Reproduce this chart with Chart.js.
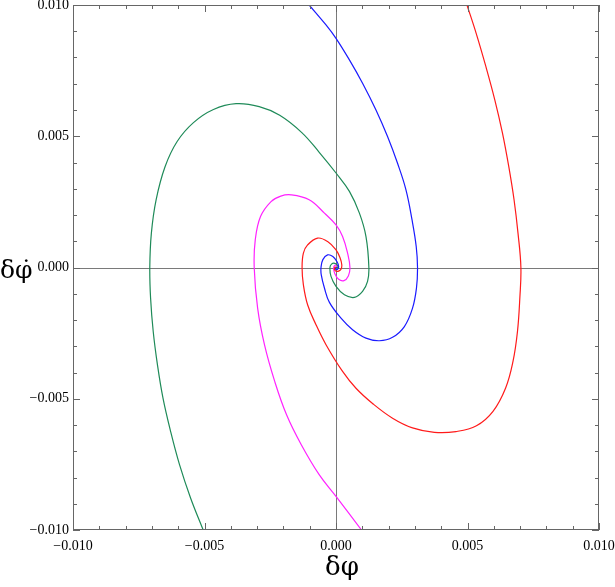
<!DOCTYPE html>
<html>
<head>
<meta charset="utf-8">
<script src="https://cdn.jsdelivr.net/npm/chart.js@4.4.1/dist/chart.umd.min.js"></script>
<style>
  html, body { margin: 0; padding: 0; background: #fff; }
  canvas { display: block; }
</style>
</head>
<body>
<canvas id="chart" width="615" height="587"></canvas>
<script>
// values (delta phi, delta phi-dot), in time order
const redX = [0.00498, 0.00533, 0.0057, 0.00604, 0.00633, 0.00657, 0.00677, 0.00692, 0.00703, 0.00699, 0.0069, 0.00673, 0.00645, 0.00597, 0.00534, 0.00456, 0.00374, 0.00291, 0.00215, 0.00139, 0.00076, 0.00025, -0.00038, -0.00076, -0.00108, -0.00124, -0.00129, -0.00124, -0.00108, -0.0007, -0.00032, 0.0, 0.00015, 0.00022, 0.00019, 0.0001, 0.0, -0.00006, -0.00004, 0.0];
const redY = [0.0100, 0.00892, 0.00765, 0.00638, 0.00512, 0.00384, 0.00258, 0.00131, 0.0, -0.00116, -0.00244, -0.00358, -0.00459, -0.00548, -0.00603, -0.00625, -0.00628, -0.00611, -0.00574, -0.00518, -0.0046, -0.00396, -0.00294, -0.00218, -0.00142, -0.00066, 0.0, 0.00055, 0.00086, 0.00112, 0.00099, 0.00067, 0.00038, 0.0001, -0.00007, -0.00014, -0.00014, -0.00007, 0.00001, 0.0];

const greenX = [-0.00505, -0.00553, -0.00595, -0.00629, -0.00658, -0.00679, -0.00695, -0.00705, -0.00708, -0.00702, -0.00684, -0.0065, -0.00604, -0.00542, -0.00466, -0.0038, -0.00292, -0.00214, -0.0013, -0.00063, 0.0, 0.00051, 0.00089, 0.00114, 0.00125, 0.0012, 0.00101, 0.0007, 0.00032, 0.0, -0.00019, -0.00023, -0.00017, -0.00005, 0.00006, 0.00006, 0.0];
const greenY = [-0.0100, -0.00878, -0.00751, -0.00624, -0.00497, -0.0037, -0.00244, -0.00116, 0.0, 0.00131, 0.00258, 0.00384, 0.0048, 0.00552, 0.00602, 0.00624, 0.00613, 0.0058, 0.00514, 0.00438, 0.0036, 0.0029, 0.00207, 0.00118, 0.0, -0.00053, -0.00091, -0.00114, -0.00104, -0.00072, -0.00034, 0.0, 0.00013, 0.00016, 0.00008, 0.0, 0.0];

const blueX = [-0.00102, -0.00038, 0.0, 0.00051, 0.00101, 0.00152, 0.00196, 0.00234, 0.00266, 0.00289, 0.00305, 0.0031, 0.00306, 0.00291, 0.0026, 0.00215, 0.00165, 0.00114, 0.00063, 0.00019, -0.00025, -0.00044, -0.00056, -0.00057, -0.0005, -0.00032, -0.00012, 0.00004, 0.0001, 0.00006, -0.00002, 0.0];
const blueY = [0.0100, 0.00924, 0.00873, 0.00791, 0.00702, 0.0060, 0.00499, 0.00397, 0.00296, 0.00182, 0.0008, 0.0, -0.00078, -0.00155, -0.00225, -0.00266, -0.00279, -0.00269, -0.00237, -0.00193, -0.00133, -0.00078, -0.00028, 0.0, 0.0003, 0.00048, 0.00042, 0.00022, 0.00004, -0.00007, -0.00006, 0.0];

const magentaX = [0.00097, 0.0, -0.00064, -0.00132, -0.00188, -0.00233, -0.00272, -0.00298, -0.00311, -0.00307, -0.00287, -0.00247, -0.0021, -0.00171, -0.00102, -0.00044, 0.0, 0.00025, 0.00044, 0.00053, 0.00047, 0.0003, 0.0001, -0.00004, -0.00009, -0.00004, 0.00003, 0.0];
const magentaY = [-0.0100, -0.00872, -0.00789, -0.00675, -0.00561, -0.00434, -0.00294, -0.00155, 0.0, 0.00105, 0.00194, 0.00251, 0.00272, 0.00277, 0.00258, 0.00207, 0.00162, 0.00118, 0.00055, 0.0, -0.00032, -0.0005, -0.00045, -0.00025, -0.00002, 0.00009, 0.00006, 0.0];

const axisMin = -0.01;
const axisMax = 0.01;
const majorStep = 0.005;

const toPoints = (xs, ys) => xs.map((x, i) => ({ x: x, y: ys[i] }));

const makeSeries = (label, xs, ys, color) => {
    return {
        label: label,
        data: toPoints(xs, ys),
        showLine: true,
        borderColor: color,
        borderWidth: 1.2,
        pointRadius: 0,
        tension: 0.4,
        cubicInterpolationMode: "default",
        fill: false,
    };
};

const fmt = (v) => {
    if (Math.abs(v) < 1e-9) return "0.000";
    return (v < 0 ? "\u2212" : "") + Math.abs(v).toFixed(3);
};

const tickFont = { family: "'Liberation Serif', 'DejaVu Serif', serif", size: 14 };

// frame, inward ticks on all four sides, zero lines and axis titles
const framePlugin = {
    id: "frame",
    beforeDatasetsDraw(chart) {
        const { ctx, chartArea: a, scales } = chart;
        const x0 = Math.round(scales.x.getPixelForValue(0)) + 0.5;
        const y0 = Math.round(scales.y.getPixelForValue(0)) + 0.5;
        ctx.save();
        ctx.strokeStyle = "#7a7a7a";
        ctx.lineWidth = 1;
        ctx.beginPath();
        ctx.moveTo(x0, a.top);
        ctx.lineTo(x0, a.bottom);
        ctx.moveTo(a.left, y0);
        ctx.lineTo(a.right, y0);
        ctx.stroke();
        ctx.restore();
    },
    afterDatasetsDraw(chart) {
        const { ctx, chartArea: a, scales } = chart;
        ctx.save();
        ctx.strokeStyle = "#666";
        ctx.lineWidth = 1;
        ctx.strokeRect(a.left + 0.5, a.top + 0.5, a.right - a.left - 1, a.bottom - a.top - 1);
        ctx.beginPath();
        for (let i = -10; i <= 10; i++) {
            const v = i / 1000;
            const len = i % 5 === 0 ? 7 : 4;
            const px = Math.round(scales.x.getPixelForValue(v)) + 0.5;
            const py = Math.round(scales.y.getPixelForValue(v)) + 0.5;
            ctx.moveTo(px, a.bottom);
            ctx.lineTo(px, a.bottom - len);
            ctx.moveTo(px, a.top);
            ctx.lineTo(px, a.top + len);
            ctx.moveTo(a.left, py);
            ctx.lineTo(a.left + len, py);
            ctx.moveTo(a.right, py);
            ctx.lineTo(a.right - len, py);
        }
        ctx.stroke();

        ctx.fillStyle = "#000";
        ctx.font = "26px 'DejaVu Serif', 'Liberation Serif', serif";
        ctx.textAlign = "center";
        ctx.textBaseline = "alphabetic";
        ctx.fillText("δφ", (a.left + a.right) / 2 + 6, 575);
        ctx.textAlign = "left";
        ctx.font = "25px 'DejaVu Serif', 'Liberation Serif', serif";
        ctx.fillText("δφ\u0307", 0, 278);
        ctx.restore();
    },
};

const createChart = () => {
    const ctx = document.getElementById("chart").getContext("2d");
    return new Chart(ctx, {
        type: "scatter",
        data: {
            datasets: [
                makeSeries("red", redX, redY, "#ff1a1a"),
                makeSeries("blue", blueX, blueY, "#1a1aff"),
                makeSeries("green", greenX, greenY, "#1e8a58"),
                makeSeries("magenta", magentaX, magentaY, "#ff22ff"),
            ],
        },
        options: {
            responsive: false,
            animation: false,
            devicePixelRatio: 1,
            elements: { line: { tension: 0.4 } },
            layout: { autoPadding: false, padding: { top: 5, right: 16, left: 0, bottom: 0 } },
            plugins: {
                legend: { display: false },
                tooltip: { enabled: false },
            },
            scales: {
                x: {
                    type: "linear",
                    min: axisMin,
                    max: axisMax,
                    grid: { display: false, drawTicks: false },
                    border: { display: false },
                    ticks: { stepSize: majorStep, callback: fmt, font: tickFont, color: "#000", padding: 8, maxRotation: 0 },
                    afterFit: (s) => { s.height = 57; s.paddingLeft = 0; s.paddingRight = 0; },
                },
                y: {
                    type: "linear",
                    min: axisMin,
                    max: axisMax,
                    grid: { display: false, drawTicks: false },
                    border: { display: false },
                    ticks: { stepSize: majorStep, callback: fmt, font: tickFont, color: "#000", padding: 4 },
                    afterFit: (s) => { s.width = 73; s.paddingTop = 0; s.paddingBottom = 0; },
                },
            },
        },
        plugins: [framePlugin],
    });
};

createChart();
</script>
</body>
</html>
